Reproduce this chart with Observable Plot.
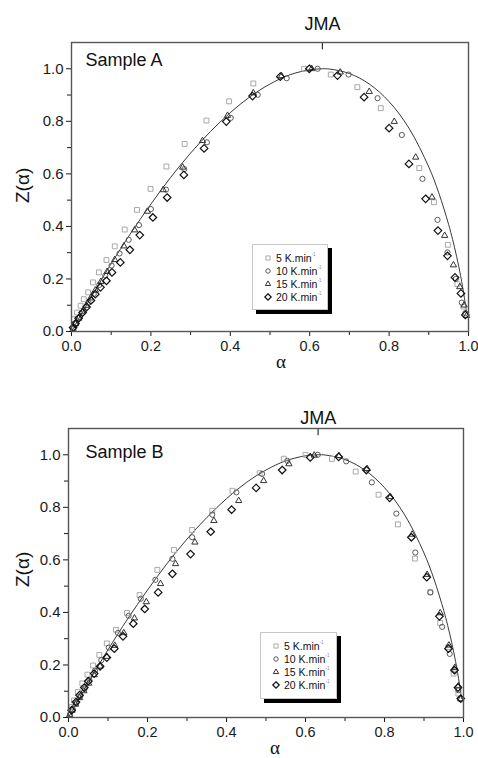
<!DOCTYPE html>
<html><head><meta charset="utf-8">
<script src="https://cdn.jsdelivr.net/npm/d3@7"></script>
<script src="https://cdn.jsdelivr.net/npm/@observablehq/plot@0.6"></script>
<style>
body{margin:0;background:#fff;}
#root{position:relative;width:478px;height:758px;overflow:hidden;font-family:"Liberation Sans",Arial,sans-serif;background:#fff;}
.panel{position:absolute;left:0;}
.legend{position:absolute;box-sizing:border-box;background:#fff;border:1px solid #c8c8c8;box-shadow:4px 4px 0 #000;}
.legend svg{display:block;}
</style></head><body><div id="root"></div>
<script>
// ---------- data ----------
const xMajor = [0, 0.2, 0.4, 0.6, 0.8, 1.0];
const xMinor = [0.1, 0.3, 0.5, 0.7, 0.9];
const yMajor = [0, 0.2, 0.4, 0.6, 0.8, 1.0];
const yMinor = [0.1, 0.3, 0.5, 0.7, 0.9];
const yMax = 1.1;
const seriesNames = ["5 K.min", "10 K.min", "15 K.min", "20 K.min"];
const panelTitles = ["Sample A", "Sample B"];
const modelLabel = "JMA";
const jmaPeak = 0.632;
const xLabel = "α";
const yLabel = "Z(α)";

// JMA master curve
const jmaAlpha = [0, 0.01, 0.02, 0.035, 0.05, 0.075, 0.1, 0.15, 0.2, 0.25, 0.3, 0.35, 0.4, 0.45, 0.5, 0.55, 0.6, 0.632, 0.65, 0.7, 0.75, 0.8, 0.85, 0.9, 0.925, 0.95, 0.96, 0.97, 0.98, 0.985, 0.99, 0.995];
const jmaZ     = [0, 0.027, 0.054, 0.093, 0.132, 0.196, 0.258, 0.376, 0.485, 0.587, 0.679, 0.761, 0.833, 0.894, 0.942, 0.977, 0.996, 1.0, 0.999, 0.982, 0.942, 0.875, 0.774, 0.626, 0.528, 0.407, 0.350, 0.286, 0.213, 0.171, 0.125, 0.072];

// Sample A
const a5Alpha  = [0.006, 0.014, 0.023, 0.031, 0.042, 0.054, 0.069, 0.088, 0.109, 0.134, 0.165, 0.199, 0.239, 0.285, 0.340, 0.397, 0.458, 0.586, 0.653, 0.720, 0.779, 0.876, 0.913, 0.948, 0.972, 0.987];
const a5Z      = [0.047, 0.072, 0.098, 0.123, 0.149, 0.187, 0.225, 0.272, 0.324, 0.388, 0.463, 0.543, 0.628, 0.714, 0.803, 0.876, 0.944, 1.000, 0.978, 0.930, 0.850, 0.622, 0.492, 0.330, 0.180, 0.095];
const a10Alpha = [0.004, 0.012, 0.021, 0.031, 0.043, 0.056, 0.070, 0.085, 0.101, 0.121, 0.144, 0.170, 0.200, 0.238, 0.284, 0.341, 0.401, 0.469, 0.542, 0.620, 0.698, 0.771, 0.832, 0.884, 0.922, 0.947, 0.968, 0.983, 0.992];
const a10Z     = [0.012, 0.031, 0.055, 0.080, 0.110, 0.143, 0.177, 0.213, 0.251, 0.297, 0.349, 0.405, 0.466, 0.540, 0.618, 0.720, 0.813, 0.901, 0.964, 1.000, 0.978, 0.888, 0.748, 0.581, 0.425, 0.301, 0.200, 0.110, 0.070];
const a15Alpha = [0.004, 0.010, 0.018, 0.027, 0.037, 0.048, 0.060, 0.074, 0.090, 0.109, 0.132, 0.159, 0.191, 0.231, 0.280, 0.330, 0.393, 0.458, 0.529, 0.605, 0.677, 0.750, 0.813, 0.867, 0.908, 0.940, 0.962, 0.978, 0.989, 0.995];
const a15Z     = [0.012, 0.029, 0.050, 0.074, 0.099, 0.127, 0.157, 0.190, 0.228, 0.273, 0.325, 0.386, 0.457, 0.539, 0.625, 0.726, 0.822, 0.908, 0.973, 1.000, 0.987, 0.913, 0.799, 0.663, 0.511, 0.365, 0.253, 0.170, 0.100, 0.060];
const a20Alpha = [0.004, 0.010, 0.018, 0.028, 0.038, 0.049, 0.060, 0.073, 0.088, 0.102, 0.123, 0.147, 0.172, 0.205, 0.241, 0.283, 0.334, 0.390, 0.456, 0.526, 0.599, 0.670, 0.737, 0.800, 0.850, 0.892, 0.923, 0.947, 0.966, 0.981, 0.992];
const a20Z     = [0.015, 0.030, 0.050, 0.072, 0.093, 0.118, 0.142, 0.168, 0.193, 0.225, 0.263, 0.311, 0.367, 0.434, 0.510, 0.596, 0.697, 0.799, 0.896, 0.970, 1.000, 0.974, 0.892, 0.774, 0.638, 0.505, 0.384, 0.288, 0.206, 0.145, 0.063];

// Sample B
const b5Alpha  = [0.008, 0.014, 0.024, 0.035, 0.048, 0.062, 0.078, 0.097, 0.120, 0.148, 0.180, 0.225, 0.267, 0.313, 0.364, 0.415, 0.484, 0.545, 0.600, 0.667, 0.727, 0.785, 0.834, 0.877, 0.916, 0.941, 0.962, 0.975, 0.987];
const b5Z      = [0.040, 0.065, 0.097, 0.130, 0.163, 0.198, 0.238, 0.282, 0.334, 0.398, 0.466, 0.562, 0.638, 0.714, 0.787, 0.863, 0.930, 0.985, 1.000, 0.984, 0.936, 0.848, 0.735, 0.605, 0.477, 0.360, 0.268, 0.167, 0.091];
const b10Alpha = [0.004, 0.011, 0.020, 0.030, 0.041, 0.053, 0.067, 0.083, 0.102, 0.125, 0.152, 0.183, 0.220, 0.263, 0.313, 0.364, 0.425, 0.490, 0.554, 0.631, 0.703, 0.768, 0.830, 0.878, 0.916, 0.946, 0.965, 0.979, 0.987, 0.993];
const b10Z     = [0.012, 0.031, 0.056, 0.082, 0.110, 0.142, 0.178, 0.218, 0.266, 0.322, 0.387, 0.452, 0.524, 0.604, 0.686, 0.772, 0.857, 0.927, 0.977, 1.000, 0.975, 0.895, 0.776, 0.628, 0.476, 0.345, 0.242, 0.180, 0.104, 0.072];
const b15Alpha = [0.003, 0.009, 0.018, 0.028, 0.039, 0.051, 0.065, 0.080, 0.097, 0.117, 0.140, 0.167, 0.197, 0.233, 0.271, 0.320, 0.368, 0.431, 0.494, 0.558, 0.622, 0.685, 0.756, 0.815, 0.870, 0.908, 0.941, 0.963, 0.978, 0.987, 0.993];
const b15Z     = [0.010, 0.027, 0.050, 0.075, 0.101, 0.130, 0.162, 0.195, 0.232, 0.274, 0.322, 0.378, 0.440, 0.509, 0.585, 0.667, 0.749, 0.825, 0.901, 0.965, 0.998, 0.996, 0.947, 0.840, 0.697, 0.544, 0.398, 0.275, 0.190, 0.120, 0.070];
const b20Alpha = [0.008, 0.019, 0.028, 0.040, 0.050, 0.065, 0.080, 0.097, 0.116, 0.138, 0.164, 0.193, 0.227, 0.263, 0.309, 0.360, 0.413, 0.475, 0.541, 0.612, 0.684, 0.754, 0.813, 0.868, 0.907, 0.939, 0.962, 0.977, 0.986, 0.993];
const b20Z     = [0.028, 0.059, 0.085, 0.114, 0.138, 0.167, 0.195, 0.228, 0.262, 0.309, 0.357, 0.413, 0.476, 0.547, 0.622, 0.707, 0.791, 0.874, 0.942, 0.990, 0.992, 0.942, 0.836, 0.686, 0.534, 0.385, 0.262, 0.180, 0.114, 0.072];

// ---------- styling (not data) ----------
const symbolStyles = [
  {symbol: "square2",   r: 3.1, stroke: "#a8a8a8", strokeWidth: 1},
  {symbol: "circle",    r: 2.6, stroke: "#5a5a5a", strokeWidth: 1},
  {symbol: "triangle2", r: 3.0, stroke: "#333",    strokeWidth: 1},
  {symbol: "diamond2",  r: 3.4, stroke: "#111",    strokeWidth: 1.2}
];
const FONT = "Liberation Sans, Arial, sans-serif";

const panels = [
  {title: panelTitles[0], top: 0, height: 380, mL: 71, mR: 10, mT: 42, mB: 49,
   series: [[a5Alpha, a5Z], [a10Alpha, a10Z], [a15Alpha, a15Z], [a20Alpha, a20Z]],
   titleDx: 14, titleDy: 11, jmaDy: -13, ylDx: -48.5, ylDy: 16, xlDx: 11, xlDy: 36,
   legend: {left: 252, top: 244, w: 76, h: 66}},
  {title: panelTitles[1], top: 380, height: 378, mL: 68, mR: 15, mT: 48, mB: 41,
   series: [[b5Alpha, b5Z], [b10Alpha, b10Z], [b15Alpha, b15Z], [b20Alpha, b20Z]],
   titleDx: 17, titleDy: 17, jmaDy: -5, ylDx: -46, ylDy: 14, xlDx: 9, xlDy: 36,
   legend: {left: 260, top: 632, w: 77, h: 67}}
];

const root = document.getElementById("root");
const fmt = d3.format(".1f");
const curve = jmaAlpha.map((a, i) => ({a, z: jmaZ[i]}));

for (const p of panels) {
  const dotMarks = p.series.map(([al, zs], i) => {
    const rows = al.map((a, j) => ({a, z: zs[j]}));
    const s = symbolStyles[i];
    return Plot.dot(rows, {x: "a", y: "z", symbol: s.symbol, r: s.r, stroke: s.stroke, strokeWidth: s.strokeWidth, fill: "none"});
  });
  const chart = Plot.plot({
    width: 478, height: p.height,
    marginLeft: p.mL, marginRight: p.mR, marginTop: p.mT, marginBottom: p.mB,
    style: {fontFamily: FONT, fontSize: "15px", color: "#1a1a1a", background: "transparent", overflow: "visible"},
    x: {domain: [0, 1]},
    y: {domain: [0, yMax]},
    marks: [
      Plot.axisX({ticks: xMajor, tickFormat: fmt, tickSize: 5, tickPadding: 4.5, label: null, fontSize: 14.5}),
      Plot.axisX({ticks: xMinor, tickFormat: () => "", tickSize: 4, label: null}),
      Plot.axisY({ticks: yMajor, tickFormat: fmt, tickSize: 5, tickPadding: 3, label: null, fontSize: 15}),
      Plot.axisY({ticks: yMinor, tickFormat: () => "", tickSize: 4, label: null}),
      Plot.line(curve, {x: "a", y: "z", stroke: "#222", strokeWidth: 0.9, curve: "catmull-rom"}),
      ...dotMarks,
      Plot.ruleX([jmaPeak], {y1: yMax, y2: yMax - 0.028, stroke: "#333", strokeWidth: 1.2}),
      Plot.text([modelLabel], {x: jmaPeak, frameAnchor: "top", lineAnchor: "bottom", dy: p.jmaDy, fontSize: 18, fill: "#111"}),
      Plot.text([p.title], {frameAnchor: "top-left", textAnchor: "start", lineAnchor: "top", dx: p.titleDx, dy: p.titleDy, fontSize: 18, fill: "#111"}),
      Plot.text([yLabel], {frameAnchor: "left", rotate: -90, dx: p.ylDx, dy: p.ylDy, fontSize: 19, fill: "#111"}),
      Plot.text([xLabel], {frameAnchor: "bottom", dx: p.xlDx, dy: p.xlDy, fontSize: 19, fontFamily: "Liberation Serif, serif", fill: "#111"}),
      Plot.frame({stroke: "#555", strokeWidth: 1.4})
    ]
  });
  const wrap = document.createElement("div");
  wrap.className = "panel";
  wrap.style.top = p.top + "px";
  wrap.appendChild(chart);
  root.appendChild(wrap);

  // legend
  const lg = document.createElement("div");
  lg.className = "legend";
  Object.assign(lg.style, {left: p.legend.left + "px", top: p.legend.top + "px", width: p.legend.w + "px", height: p.legend.h + "px"});
  const svg = d3.create("svg").attr("width", p.legend.w - 2).attr("height", p.legend.h - 2)
    .style("font-family", FONT);
  seriesNames.forEach((name, i) => {
    const cy = 13 + i * 13;
    const s = symbolStyles[i];
    const symType = {square2: d3.symbolSquare2, circle: d3.symbolCircle, triangle2: d3.symbolTriangle2, diamond2: d3.symbolDiamond2}[s.symbol];
    const rr = s.r * 0.85;
    svg.append("path").attr("transform", `translate(15,${cy})`)
      .attr("d", d3.symbol(symType, rr * rr * Math.PI)())
      .attr("fill", "none").attr("stroke", s.stroke).attr("stroke-width", s.strokeWidth);
    const t = svg.append("text").attr("x", 23).attr("y", cy + 4).attr("font-size", 10.5).attr("fill", "#111").text(name);
    t.append("tspan").attr("dy", -6).attr("font-size", 4.5).attr("fill", "#888").text("-1");
  });
  lg.appendChild(svg.node());
  root.appendChild(lg);
}
</script>
</body></html>
